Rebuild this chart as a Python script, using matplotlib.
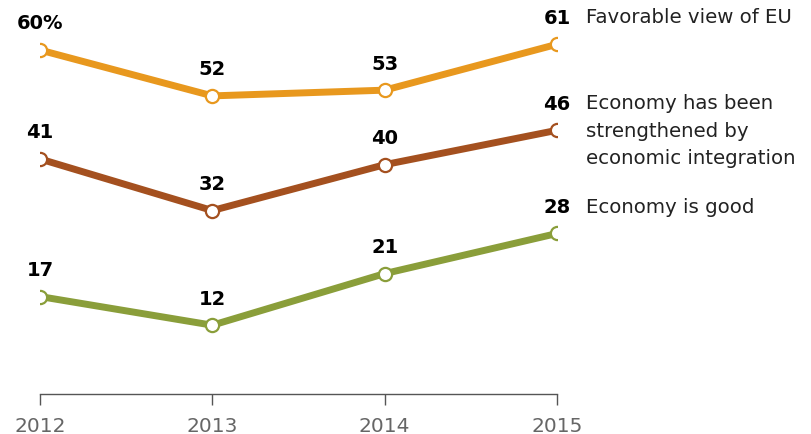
import matplotlib.pyplot as plt

years = [2012, 2013, 2014, 2015]
favorable_eu = [60, 52, 53, 61]
strengthened = [41, 32, 40, 46]
economy_good = [17, 12, 21, 28]
series_names = ['Favorable view of EU',
                'Economy has been\nstrengthened by\neconomic integration',
                'Economy is good']
colors = ['#E8981E', '#A4501F', '#8A9E3A']

fig = plt.figure(figsize=(8.12, 4.35), dpi=100)
ax = fig.add_axes([40 / 812, 40 / 435, 517 / 812, 395 / 435])

for vals, name, color in zip([favorable_eu, strengthened, economy_good], series_names, colors):
    ax.plot(years, vals, color=color, lw=5, solid_capstyle='round', zorder=2)
    ax.plot(years, vals, 'o', ms=9.5, mfc='white', mec=color, mew=1.6, zorder=3)
    for i, (x, v) in enumerate(zip(years, vals)):
        label = f'{v}%' if (i == 0 and vals is favorable_eu) else str(v)
        ax.annotate(label, (x, v), xytext=(0, 19.5), textcoords='offset points',
                    ha='center', va='center', fontsize=14, fontweight='bold',
                    color='black', annotation_clip=False)
    # series name next to the last value label, first line level with the number
    ax.annotate(name, (years[-1], vals[-1]), xytext=(21, 26.5), textcoords='offset points',
                ha='left', va='top', fontsize=14.2, color='#222222',
                linespacing=1.55, annotation_clip=False)

ax.set_xlim(2012, 2015)
ax.set_ylim(0, 68.9)
ax.set_xticks(years)
ax.set_xticklabels([str(y) for y in years])
ax.set_yticks([])
for s in ['top', 'right', 'left']:
    ax.spines[s].set_visible(False)
ax.spines['bottom'].set_color('#555555')
ax.spines['bottom'].set_linewidth(1)
ax.tick_params(axis='x', length=8, width=1, color='#555555', labelsize=14.5,
               labelcolor='#666666', pad=8)

fig.savefig('out.png', dpi=100)
